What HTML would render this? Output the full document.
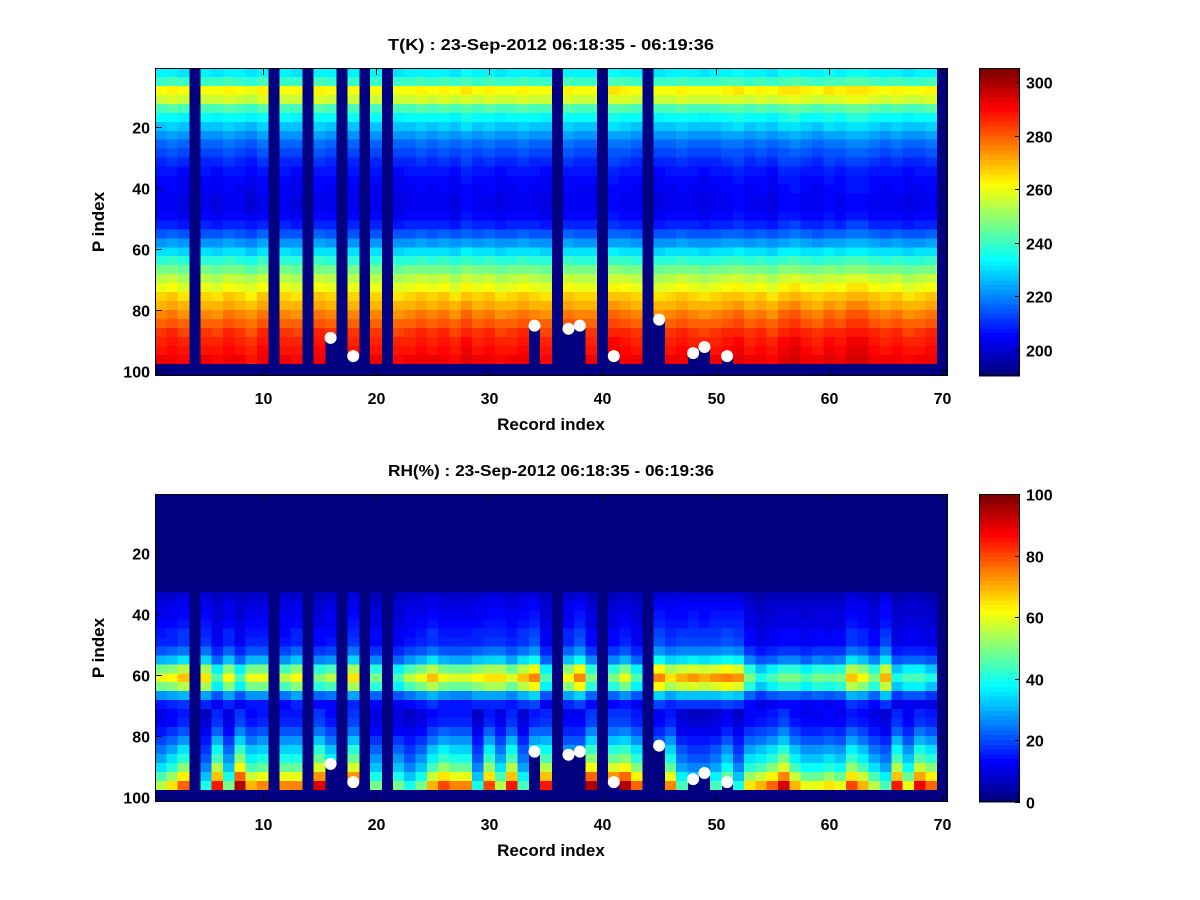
<!DOCTYPE html>
<html><head><meta charset="utf-8"><style>
body{margin:0;background:#fff;}
svg{display:block;font-family:"Liberation Sans",sans-serif;font-weight:bold;}
</style></head><body>
<svg id="fig" width="1200" height="900" viewBox="0 0 1200 900">
<rect width="1200" height="900" fill="#fff"/>
</svg>
<script>
// ---- data ----
const nCols = 70;
const xTicks = [10,20,30,40,50,60,70];
const yTicks = [20,40,60,80,100];
const tTicks = [200,220,240,260,280,300];
const rhTicks = [0,20,40,60,80,100];
const tRange = [190.3, 305.2];
const rhRange = [0, 100];
const missingCols = [4,11,14,17,19,21,36,40,44,70];
const markerCols = [16,18,34,37,38,41,45,48,49,51];
const markerRows = [89,95,85,86,85,95,83,94,92,95];
// T vertical profile, 33 blocks from top (row 0.5) to row 97.5
const tProfile = [232,240,262,256,242,234,228,222,217,213,210,207,205,204,203,203,205,209,215,222,230,238,246,254,260,266,271,276,280,284,287,289,291];
// per-column T offsets
const tColOff = [0,1,-1,0,0,-1,1,0,-2,1,0,0,-1,0,1,0,-1,0,2,0,0,-1,0,1,0,1,-1,2,0,1,-1,0,1,0,-1,0,1,0,0,0,2,1,0,0,-1,0,1,0,-1,0,1,2,0,1,-1,2,3,1,0,2,1,3,3,1,0,1,-1,0,1,0];
// RH vertical profile
const rhProfile = [0,0,0,0,0,0,0,0,0,0,0,8,10,11,12,14,15,20,28,45,55,45,25,14,12,13,17,22,28,33,40,50,62];
// per-column RH mid-band peak (%) and surface value (%)
const rhBand = [60,62,68,0,65,45,62,45,60,60,0,55,62,0,50,55,0,65,0,50,0,45,55,60,68,60,58,58,62,65,65,58,68,75,45,0,62,75,50,0,50,60,45,0,75,65,70,72,70,72,75,72,50,40,45,50,50,45,50,48,50,68,62,50,70,40,45,45,40,0];
const rhSurf = [55,65,78,0,40,85,50,95,70,75,0,75,75,0,90,70,0,90,0,50,0,50,40,50,70,80,75,75,40,80,55,85,45,80,85,0,60,60,95,0,90,95,78,0,60,75,45,40,40,45,60,40,65,70,78,92,70,60,60,65,60,80,70,55,45,85,60,88,78,0];

// ---- helpers ----
const NS = "http://www.w3.org/2000/svg";
const svg = document.getElementById('fig');
function mk(tag, attrs, parent){const e=document.createElementNS(NS,tag);for(const k in attrs)e.setAttribute(k,attrs[k]);(parent||svg).appendChild(e);return e;}
function jet(t){t=Math.max(0,Math.min(1,t));const c=v=>Math.round(255*Math.max(0,Math.min(1,v)));
  const q=Math.floor(t*63.999)/63; return `rgb(${c(1.5-Math.abs(4*q-3))},${c(1.5-Math.abs(4*q-2))},${c(1.5-Math.abs(4*q-1))})`;}
const AX = {left:155, right:948};
const xDom=[0.5,70.5], yDom=[0.5,101.5];
function xs(v){return AX.left+(v-xDom[0])/(xDom[1]-xDom[0])*(AX.right-AX.left);}
const DARK = jet(0);

function drawPanel(top, bottom, valFn, range, title, cbTicks, prefix){
  const ys = v => top+(v-yDom[0])/(yDom[1]-yDom[0])*(bottom-top);
  const g = mk('g',{});
  
  
  const bg = mk('rect',{x:AX.left,y:top,width:AX.right-AX.left,height:bottom-top,fill:DARK},g);
  
  
  const cells = mk('g',{'shape-rendering':'crispEdges'},g);
  
  
  const nb = tProfile.length, bh = 97/nb;
  for(let c=1;c<=nCols;c++){
    if(missingCols.includes(c)) continue;
    const mi = markerCols.indexOf(c);
    const cut = mi>=0 ? markerRows[mi] : 999;
    for(let k=0;k<nb;k++){
      const r0 = 0.5+k*bh, r1 = r0+bh;
      if(r0 >= cut) continue;
      const v = valFn(c,k);
      const y0 = ys(r0), y1 = ys(Math.min(r1,cut));
      const rc = mk('rect',{x:xs(c-0.5).toFixed(2),y:y0.toFixed(2),width:(xs(c+0.5)-xs(c-0.5)+0.4).toFixed(2),height:(y1-y0+0.4).toFixed(2),fill:jet((v-range[0])/(range[1]-range[0]))},cells);
      
      
    }
  }
  for(let i=0;i<markerCols.length;i++){
    const m = mk('circle',{cx:xs(markerCols[i]),cy:ys(markerRows[i]),r:6,fill:'#fff'},g);
    
    
  }
  const fr = mk('rect',{x:AX.left+0.5,y:top+0.5,width:AX.right-AX.left-1,height:bottom-top-1,fill:'none',stroke:'#000','stroke-width':1},g);
  
  
  xTicks.forEach(t=>{
    const x=Math.round(xs(t))+0.5;
    const l1=mk('line',{x1:x,x2:x,y1:bottom,y2:bottom-7,stroke:'#000'},g);
    
    
    const l2=mk('line',{x1:x,x2:x,y1:top,y2:top+7,stroke:'#000'},g);
    
    
    const tx=mk('text',{x:x,y:bottom+28,'text-anchor':'middle','font-size':16},g);
    tx.textContent=t;
    
    
  });
  yTicks.forEach(t=>{
    const y=Math.round(ys(t))+0.5;
    const l1=mk('line',{x1:AX.left,x2:AX.left+7,y1:y,y2:y,stroke:'#000'},g);
    
    
    const l2=mk('line',{x1:AX.right,x2:AX.right-7,y1:y,y2:y,stroke:'#000'},g);
    
    
    const tx=mk('text',{x:AX.left-5,y:y+6,'text-anchor':'end','font-size':16},g);
    tx.textContent=t;
    
    
  });
  const tt=mk('text',{x:551,y:top-18,'text-anchor':'middle','font-size':16,textLength:326,lengthAdjust:'spacingAndGlyphs'},g);
  tt.textContent=title;
  
  
  const xl=mk('text',{x:551,y:bottom+54,'text-anchor':'middle','font-size':17},g);
  xl.textContent='Record index';
  
  
  const cy=(top+bottom)/2;
  const yl=mk('text',{x:104,y:cy,'text-anchor':'middle','font-size':17,transform:`rotate(-90 104 ${cy})`},g);
  yl.textContent='P index';
  
  
  const cbL=979, cbR=1020;
  const cb=mk('g',{'shape-rendering':'crispEdges'},g);
  
  
  const step=(bottom-top)/64;
  for(let i=0;i<64;i++){
    const r=mk('rect',{x:cbL,y:(bottom-(i+1)*step).toFixed(2),width:cbR-cbL,height:(step+0.5).toFixed(2),fill:jet((i+0.5)/64)},cb);
    
    
  }
  const cf=mk('rect',{x:cbL+0.5,y:top+0.5,width:cbR-cbL-1,height:bottom-top-1,fill:'none',stroke:'#000'},g);
  
  
  cbTicks.forEach(t=>{
    const y=Math.round(bottom-(t-range[0])/(range[1]-range[0])*(bottom-top))+0.5;
    const l=mk('line',{x1:cbR,x2:cbR-5,y1:y,y2:y,stroke:'#000'},g);
    
    
    const tx=mk('text',{x:cbR+6,y:y+6,'font-size':16},g);
    tx.textContent=t;
    
    
  });
}

drawPanel(68, 376, (c,k)=>tProfile[k]+tColOff[c-1]*(k>=24?1.5:1), tRange,
  'T(K) : 23-Sep-2012 06:18:35 - 06:19:36', tTicks, 'temperature');
drawPanel(494, 802, (c,k)=>{
  const f = k<=23 ? rhBand[c-1]/55 : rhSurf[c-1]/62;
  return Math.min(100, rhProfile[k]*f);
}, rhRange, 'RH(%) : 23-Sep-2012 06:18:35 - 06:19:36', rhTicks, 'humidity');
</script>
</body></html>
